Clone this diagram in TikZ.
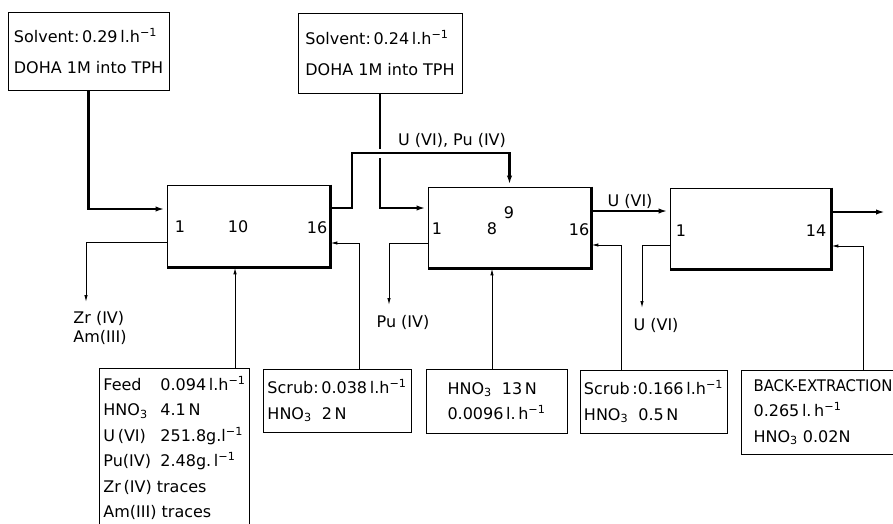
\documentclass[tikz,border=0pt]{standalone}
\usepackage{fontspec}
\setmainfont{DejaVu Sans}
\usepackage{graphicx}
\usetikzlibrary{arrows.meta}
\newcommand{\perh}{\,l.h\textsuperscript{−1}}
\newcommand{\feedcol}[1]{\makebox[57pt][l]{#1}}

\begin{document}
\begin{tikzpicture}[x=1pt,y=-1pt,>={Latex[length=11pt,width=5pt]},
  every node/.style={font=\fontsize{16}{25.5}\selectfont},
  box/.style={draw,line width=0.9pt,align=left,inner sep=4pt},
  stage/.style={draw,line width=0.9pt,minimum width=163,minimum height=82},
  flow/.style={line width=2.6pt,->},
  side/.style={line width=1pt,-{Latex[length=7pt,width=3.5pt]}}]
  \useasboundingbox (0,0) rectangle (893,523);
  \clip (0,0) rectangle (893,523);
  \node[box,minimum width=161,minimum height=78] (solv1) at (88.5,51) {Solvent:\,0.29\perh\\[6pt]DOHA 1M into TPH};
  \node[box,minimum width=164,minimum height=80] (solv2) at (380,53) {Solvent:\,0.24\perh\\[6pt]DOHA 1M into TPH};
  \node[stage] (ext) at (248.5,226) {};
  \node[stage,minimum height=81] (scr) at (509.5,227.5) {};
  \node[stage,minimum width=161,minimum height=81] (bex) at (750.5,228.5) {};
  \foreach \s in {ext,scr,bex}
    \draw[line width=2.6pt] (\s.north east) -- (\s.south east) -- (\s.south west);
  \node (e1) at (180,227) {1};
  \node (e10) at (238,227) {10};
  \node (e16) at (317,228) {16};
  \node (s1) at (437,229) {1};
  \node (s8) at (492,229) {8};
  \node (s9) at (509,213) {9};
  \node (s16) at (579,230) {16};
  \node (b1) at (681,231) {1};
  \node (b14) at (816,231) {14};
  \node[box,minimum width=147,minimum height=160] (feed) at (174.5,448) {\feedcol{Feed}0.094\perh\\\feedcol{HNO\textsubscript{3}}4.1\,N\\\feedcol{U\,(VI)}251.8g.l\textsuperscript{−1}\\\feedcol{Pu(IV)}2.48g.\,l\textsuperscript{−1}\\Zr\,(IV) traces\\Am(III) traces};
  \node[box,minimum width=148,minimum height=63] (scrub1) at (337,400.5) {Scrub:\,0.038\perh\\HNO\textsubscript{3}\ \ 2\,N};
  \node[box,minimum width=141,minimum height=64] (acid) at (496.5,401) {HNO\textsubscript{3}\ \ 13\,N\\0.0096\,l.\,h\textsuperscript{−1}};
  \node[box,minimum width=145,minimum height=63] (scrub2) at (653.5,401.5) {Scrub\,:0.166\perh\\HNO\textsubscript{3}\ \ 0.5\,N};
  \node[box,minimum width=164,minimum height=84] (back) at (823,412) {\scalebox{0.93}[1]{BACK-EXTRACTION}\\0.265\,l.\,h\textsuperscript{−1}\\HNO\textsubscript{3}\ 0.02N};
  \draw[flow] (solv1.south) |- ([yshift=17]ext.west);
  \draw[flow] (solv2.south) |- ([yshift=19.5]scr.west);
  \coordinate (up) at (352,153);
  \draw[white,line width=9pt] (up) -- (up -| scr.north);
  \draw[flow] ([yshift=18]ext.east) -| (up) -| (scr.north);
  \node (upu) at (452,140) {U (VI), Pu (IV)};
  \coordinate (uo) at ([yshift=16.5]scr.east);
  \draw[flow] (uo) -- (uo -| bex.west);
  \node (uol) at (630,201) {U (VI)};
  \coordinate (out) at (887,212);
  \draw[flow] ([yshift=16.5]bex.east) -- (out);
  \coordinate (zr) at (86,302);
  \draw[side] ([yshift=-16]ext.west) -| (zr);
  \node[align=left,font=\fontsize{16}{19}\selectfont] (zram) at (100,328) {Zr\ (IV)\\Am(III)};
  \coordinate (pu) at (389,305);
  \draw[side] ([yshift=-15.5]scr.west) -| (pu);
  \node (pul) at (403,322) {Pu (IV)};
  \coordinate (uu) at (642,308);
  \draw[side] ([yshift=-16.5]bex.west) -| (uu);
  \node (uul) at (656,325) {U (VI)};
  \coordinate (fd) at ([xshift=-15]feed.north east);
  \draw[side] (fd) -- (fd |- ext.south);
  \coordinate (sc1) at ([xshift=22]scrub1.north);
  \draw[side] (sc1) |- ([yshift=-17]ext.east);
  \coordinate (ac) at ([xshift=-4.5]acid.north);
  \draw[side] (ac) -- (ac |- scr.south);
  \coordinate (sc2) at ([xshift=-32.5]scrub2.north);
  \draw[side] (sc2) |- ([yshift=-17.5]scr.east);
  \coordinate (bk) at ([xshift=40]back.north);
  \draw[side] (bk) |- ([yshift=-17.5]bex.east);
\end{tikzpicture}
\end{document}
